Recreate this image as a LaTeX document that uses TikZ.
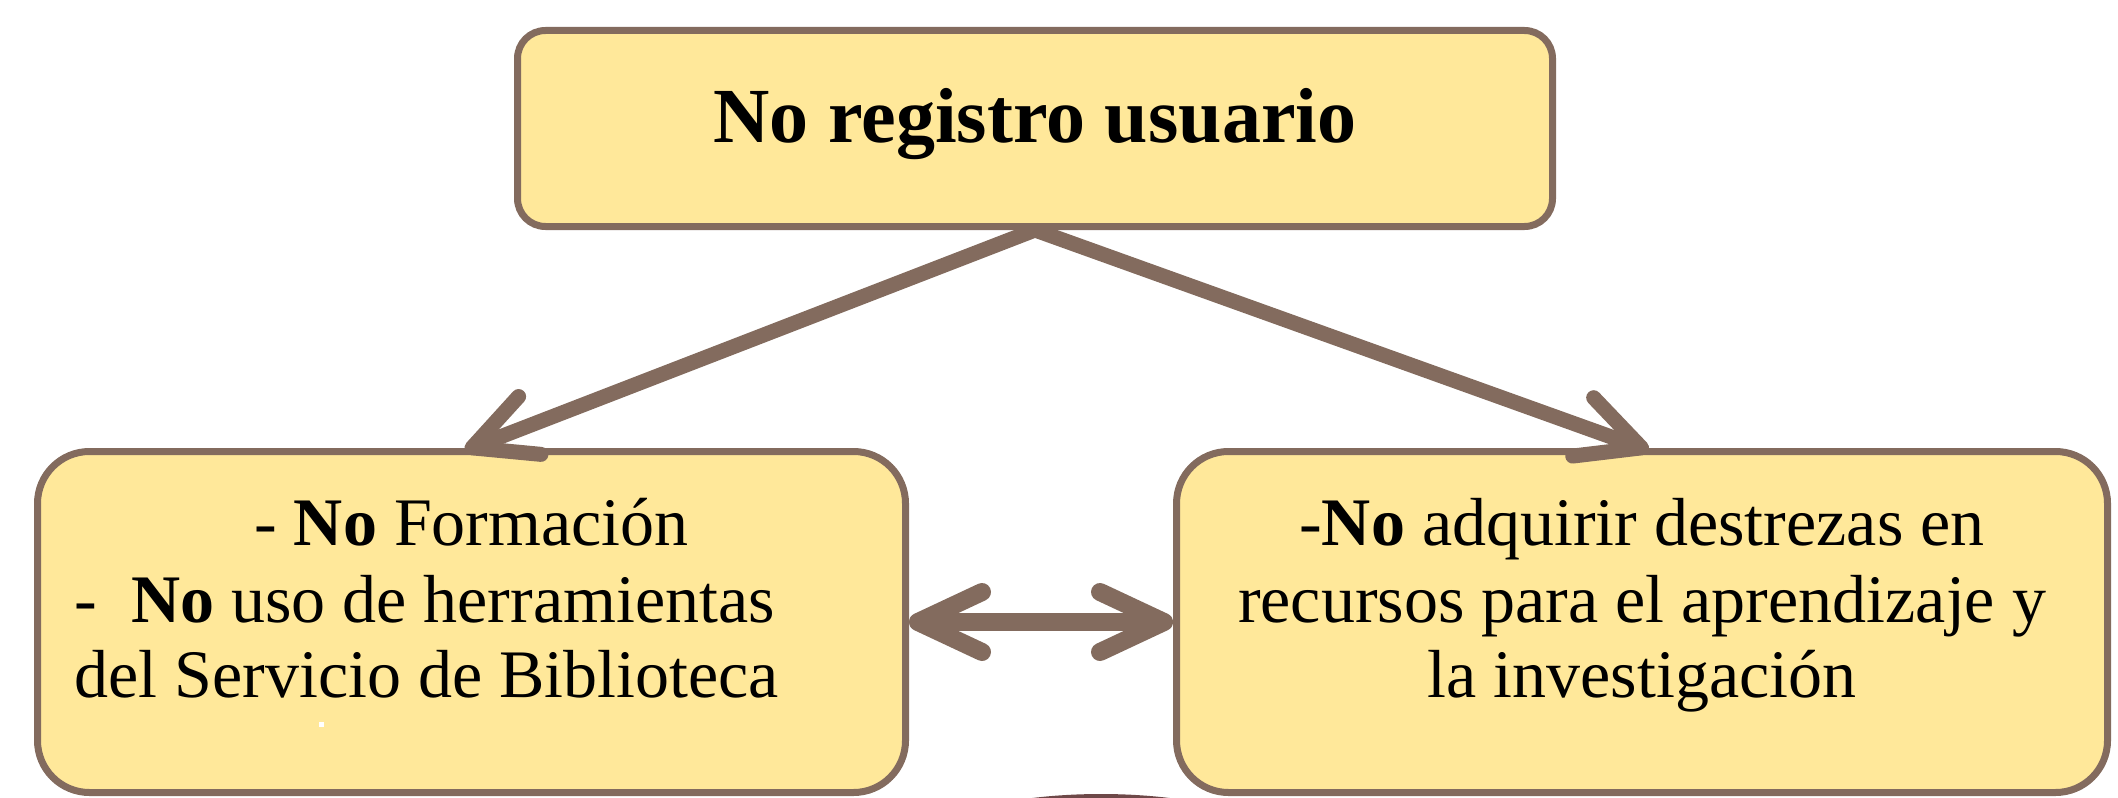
\documentclass[tikz,border=0pt]{standalone}
\usepackage{fontspec}
\setmainfont{Liberation Serif}
\usetikzlibrary{arrows.meta}
\definecolor{boxfill}{HTML}{FFE89A}
\definecolor{boxline}{HTML}{836B5E}
\definecolor{darkarc}{HTML}{6E4848}
\begin{document}
\begin{tikzpicture}[x=0.5pt,y=-0.5pt,
  box/.style={draw=boxline, fill=boxfill, line width=3.5pt, inner sep=0pt},
  txt/.style={inner sep=0pt, font=\fontsize{34}{38}\selectfont},
  ttl/.style={inner sep=0pt, font=\fontsize{39}{44}\selectfont\bfseries},
  flow/.style={draw=boxline, line width=7.5pt, shorten >=-3.5pt, -{Straight Barb[length=31pt,width=31pt,round]}},
  both/.style={draw=boxline, line width=9pt, {Straight Barb[length=32pt,width=30pt,round]}-{Straight Barb[length=32pt,width=30pt,round]}}]
\useasboundingbox (0,0) rectangle (2118,797);
% bottom partial shape
\fill[darkarc] (1101,860) ellipse [x radius=200, y radius=66];
% boxes
\node[box, rounded corners=14pt, minimum width=517.5pt, minimum height=98pt] (top) at (1035,128.5) {};
\node[box, rounded corners=26pt, minimum width=434pt, minimum height=170.5pt] (lbox) at (471.5,622) {};
\node[box, rounded corners=26pt, minimum width=465.5pt, minimum height=170.5pt] (rbox) at (1642,622) {};
% texts
\node[ttl, anchor=base] (t0) at (1035,142) {No registro usuario};
\node[txt, anchor=base] (l1) at (471.5,545) {- \textbf{No} Formación};
\node[txt, anchor=base west] (l2) at (74,622) {-\ \ \textbf{No} uso de herramientas};
\node[txt, anchor=base west] (l3) at (74,697) {del Servicio de Biblioteca};
\node[txt, anchor=base] (r1) at (1642,545) {-\textbf{No} adquirir destrezas en};
\node[txt, anchor=base] (r2) at (1642,622) {recursos para el aprendizaje y};
\node[txt, anchor=base] (r3) at (1642,697) {la investigación};
\fill[white] (319,722) rectangle (324,727);
% connectors
\draw[flow] (top.south) -- (lbox.north);
\draw[flow] (top.south) -- (rbox.north);
\draw[both] (lbox.east) -- (rbox.west);
\end{tikzpicture}
\end{document}
